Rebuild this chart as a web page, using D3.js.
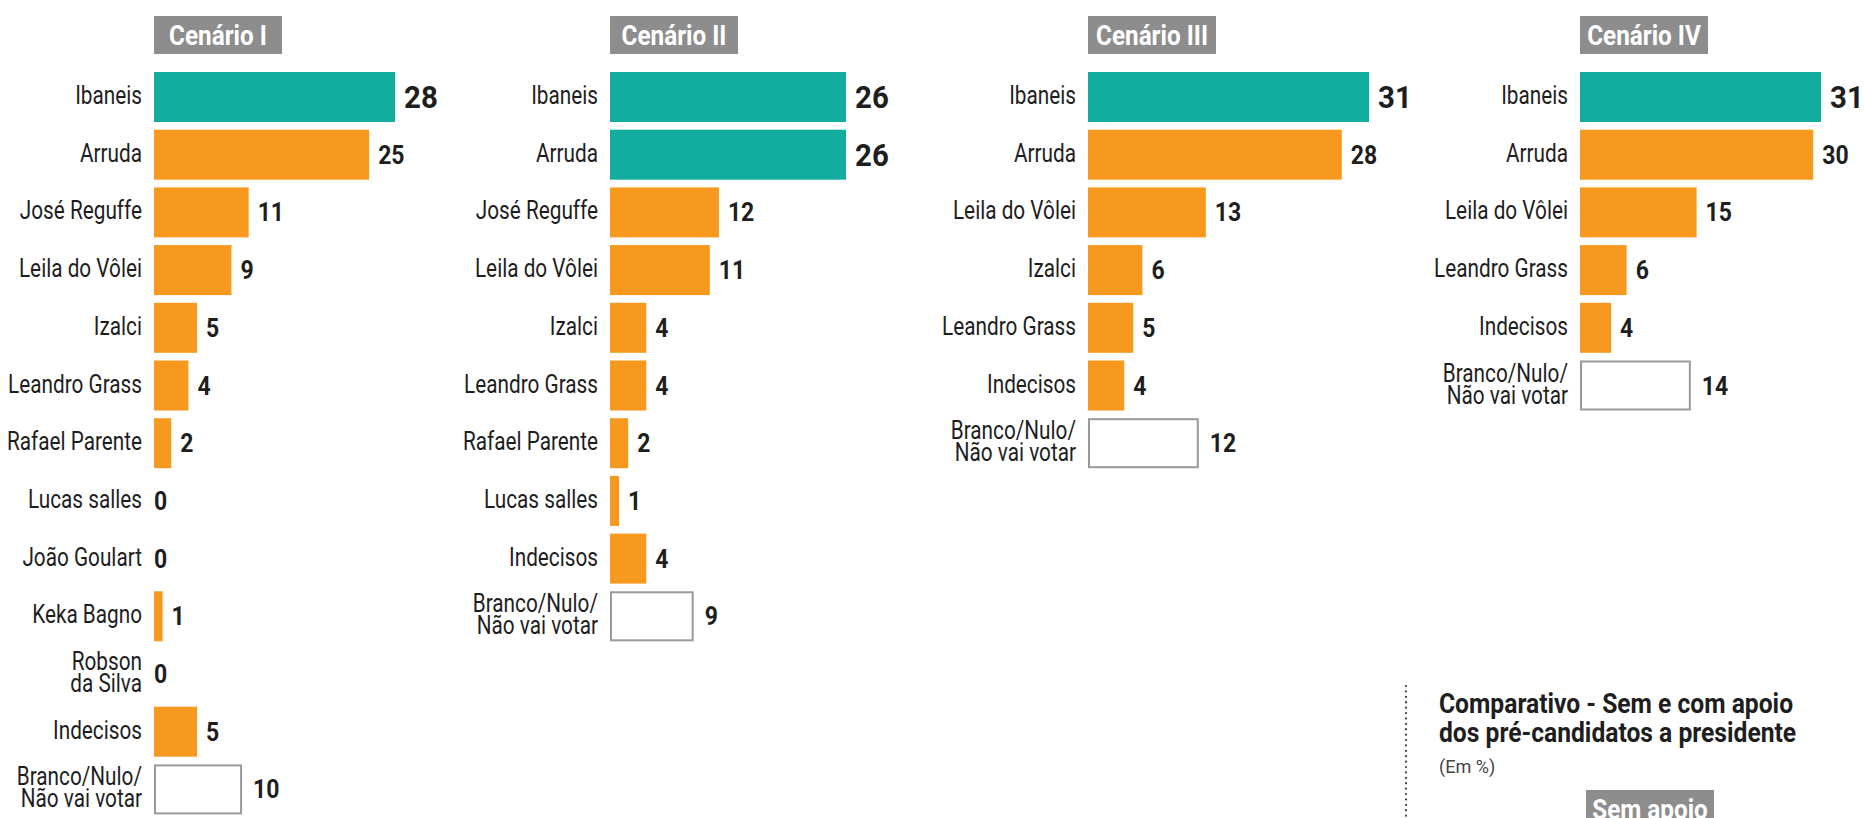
<!DOCTYPE html>
<head>
  <meta charset="utf-8">
  <script src="https://d3js.org/d3.v7.min.js"></script>
  <style>
    body { margin: 0; background: #fff; }
    svg { display: block; }
    text { font-family: Roboto, "Noto Sans", sans-serif; }
    .name { font-size: 25px; fill: #1e1e1e; }
    .value { font-weight: bold; fill: #1e1e1e; }
    .head { font-size: 27px; font-weight: bold; fill: #fff; }
    .note-title { font-size: 28px; font-weight: bold; fill: #1e1e1e; }
    .note-sub { font-size: 19px; fill: #444; }
  </style>
</head>
<body>
<script>
// data per scenario
var titles = ["Cenário I", "Cenário II", "Cenário III", "Cenário IV"];

var names1 = ["Ibaneis", "Arruda", "José Reguffe", "Leila do Vôlei", "Izalci", "Leandro Grass",
  "Rafael Parente", "Lucas salles", "João Goulart", "Keka Bagno", "Robson|da Silva", "Indecisos",
  "Branco/Nulo/|Não vai votar"];
var values1 = [28, 25, 11, 9, 5, 4, 2, 0, 0, 1, 0, 5, 10];

var names2 = ["Ibaneis", "Arruda", "José Reguffe", "Leila do Vôlei", "Izalci", "Leandro Grass",
  "Rafael Parente", "Lucas salles", "Indecisos", "Branco/Nulo/|Não vai votar"];
var values2 = [26, 26, 12, 11, 4, 4, 2, 1, 4, 9];

var names3 = ["Ibaneis", "Arruda", "Leila do Vôlei", "Izalci", "Leandro Grass", "Indecisos",
  "Branco/Nulo/|Não vai votar"];
var values3 = [31, 28, 13, 6, 5, 4, 12];

var names4 = ["Ibaneis", "Arruda", "Leila do Vôlei", "Leandro Grass", "Indecisos",
  "Branco/Nulo/|Não vai votar"];
var values4 = [31, 30, 15, 6, 4, 14];

var noteTitle = ["Comparativo - Sem e com apoio", "dos pré-candidatos a presidente"];
var noteUnit = "(Em %)";
var noteTab = "Sem apoio";

var panels = [
  { title: titles[0], names: names1, values: values1, x0: 154, w: 241 },
  { title: titles[1], names: names2, values: values2, x0: 610, w: 236 },
  { title: titles[2], names: names3, values: values3, x0: 1088, w: 281 },
  { title: titles[3], names: names4, values: values4, x0: 1580, w: 241 }
];

var width = 1866, height = 818;
var teal = "#12ad9f", orange = "#f7991e", grey = "#8d8d8d";
var step = 57.7, barH = 50, top0 = 72;
var pad = 1 - barH / step;
var narrow = 0.83; // squeeze text to look like a condensed face

var svg = d3.select("body").append("svg")
  .attr("width", width)
  .attr("height", height);

function place(x, y, sx) {
  return "translate(" + x + "," + y + ") scale(" + sx + ",1)";
}
function isBlank(d) { return d.name.indexOf("Branco") == 0; }

panels.forEach(function(p) {
  var n = p.names.length;
  var rows = p.names.map(function(d, i) { return { name: d, value: p.values[i], i: i }; });
  var top = d3.max(rows.filter(function(d) { return !isBlank(d); }), function(d) { return d.value; });

  var x = d3.scaleLinear().domain([0, d3.max(p.values)]).range([0, p.w]);
  var y = d3.scaleBand().domain(d3.range(n))
    .range([top0, top0 + step * (n - pad)])
    .paddingInner(pad).paddingOuter(0);

  var g = svg.append("g").attr("transform", "translate(" + p.x0 + ",0)");

  // title tab
  g.append("rect").attr("x", 0).attr("y", 16).attr("width", 128).attr("height", 38).attr("fill", grey);
  g.append("text").attr("class", "head")
    .attr("text-anchor", "middle")
    .attr("transform", place(64, 45, 0.9))
    .text(p.title);

  var row = g.selectAll(".row").data(rows).enter().append("g")
    .attr("class", "row")
    .attr("transform", function(d) { return "translate(0," + y(d.i) + ")"; });

  row.filter(function(d) { return d.value > 0; }).append("rect")
    .attr("x", function(d) { return isBlank(d) ? 1 : 0; })
    .attr("y", function(d) { return isBlank(d) ? 1 : 0; })
    .attr("height", function(d) { return isBlank(d) ? barH - 2 : barH; })
    .attr("width", function(d) { return x(d.value); })
    .attr("fill", function(d) {
      if (isBlank(d)) return "#fff";
      return d.value == top ? teal : orange;
    })
    .attr("stroke", function(d) { return isBlank(d) ? "#9a9a9a" : "none"; })
    .attr("stroke-width", 2);

  // names, two lines where there is a "|"
  row.each(function(d) {
    var lines = d.name.split("|");
    var t = d3.select(this).append("text").attr("class", "name")
      .attr("text-anchor", "end")
      .attr("transform", place(-12, barH / 2 + 7 - (lines.length - 1) * 11, narrow));
    lines.forEach(function(l, k) {
      t.append("tspan").attr("x", 0).attr("y", k * 22).text(l);
    });
  });

  row.append("text").attr("class", "value")
    .attr("transform", function(d) {
      var vx = d.value > 0 ? x(d.value) + (isBlank(d) ? 13 : 9) : 0;
      var vy = d.value == top ? barH / 2 + 11 : barH / 2 + 9;
      return place(vx, vy, 0.92);
    })
    .style("font-size", function(d) { return d.value == top ? "32px" : "25px"; })
    .text(function(d) { return d.value; });
});

// comparison note, bottom right
svg.append("line")
  .attr("x1", 1406).attr("x2", 1406).attr("y1", 686).attr("y2", height)
  .attr("stroke", "#444").attr("stroke-width", 2.2)
  .attr("stroke-dasharray", "0.1,5.3").attr("stroke-linecap", "round");

svg.selectAll(".note-title").data(noteTitle).enter().append("text")
  .attr("class", "note-title")
  .attr("transform", function(d, i) { return place(1439, 713 + i * 29, 0.88); })
  .text(function(d) { return d; });

svg.append("text").attr("class", "note-sub")
  .attr("transform", place(1439, 773, 0.95)).text(noteUnit);

svg.append("rect").attr("x", 1586).attr("y", 790).attr("width", 128).attr("height", 38).attr("fill", grey);
svg.append("text").attr("class", "head")
  .attr("text-anchor", "middle")
  .attr("transform", place(1650, 819, 0.9))
  .text(noteTab);
</script>
</body>
